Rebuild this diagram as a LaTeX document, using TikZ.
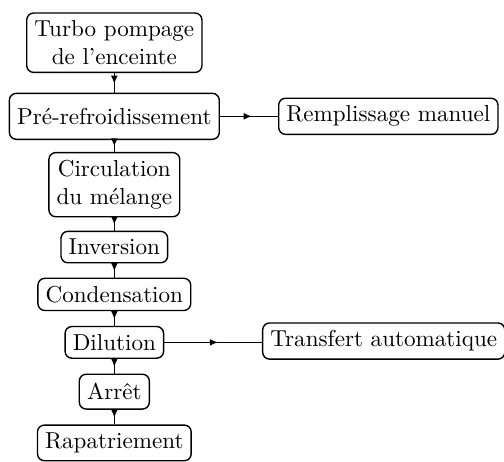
\documentclass[tikz,border=0pt]{standalone}
\usepackage{fontspec}
\usetikzlibrary{arrows.meta, decorations.markings}
\tikzset{
  etape/.style={
    rectangle,
    rounded corners=3pt,
    align=center,
    draw=black,
    line width=0.6pt
  },
  sortie/.style={etape},
  flux/.style={
    line width=0.6pt,
    decoration={markings, mark=at position 0.55 with {\arrow{Latex[length=1.25mm, width=1.05mm]}}},
    postaction={decorate}
  }
}
\begin{document}
\begin{tikzpicture}

\useasboundingbox (0,0) rectangle (7.67,-7.03);

% Etapes principales.
\node[etape] (turbo) at (1.74,-0.65) {Turbo pompage\\de l'enceinte};
\node[etape, minimum height=0.7cm] (prefroid) at (1.74,-1.77) {Pré-refroidissement};
\node[etape] (circulation) at (1.74,-2.81) {Circulation\\du mélange};
\node[etape] (inversion) at (1.74,-3.76) {Inversion};
\node[etape] (condensation) at (1.74,-4.48) {Condensation};
\node[etape] (dilution) at (1.74,-5.21) {Dilution};
\node[etape, minimum height=0.53cm] (arret) at (1.74,-5.96) {Arrêt};
\node[etape] (rapatriement) at (1.74,-6.74) {Rapatriement};

% Sorties laterales.
\node[sortie] (remplissage) at (5.91,-1.77) {Remplissage manuel};
\node[sortie] (transfert) at (5.84,-5.19) {Transfert automatique};

% Enchainement.
\draw[flux] (turbo) -- (prefroid);
\draw[flux] (prefroid) -- (circulation);
\draw[flux] (circulation) -- (inversion);
\draw[flux] (inversion) -- (condensation);
\draw[flux] (condensation) -- (dilution);
\draw[flux] (dilution) -- (arret);
\draw[flux] (arret) -- (rapatriement);
\draw[flux] (prefroid.east) -- (prefroid.east -| remplissage.west);
\draw[flux] (dilution.east) -- (dilution.east -| transfert.west);

\end{tikzpicture}
\end{document}
